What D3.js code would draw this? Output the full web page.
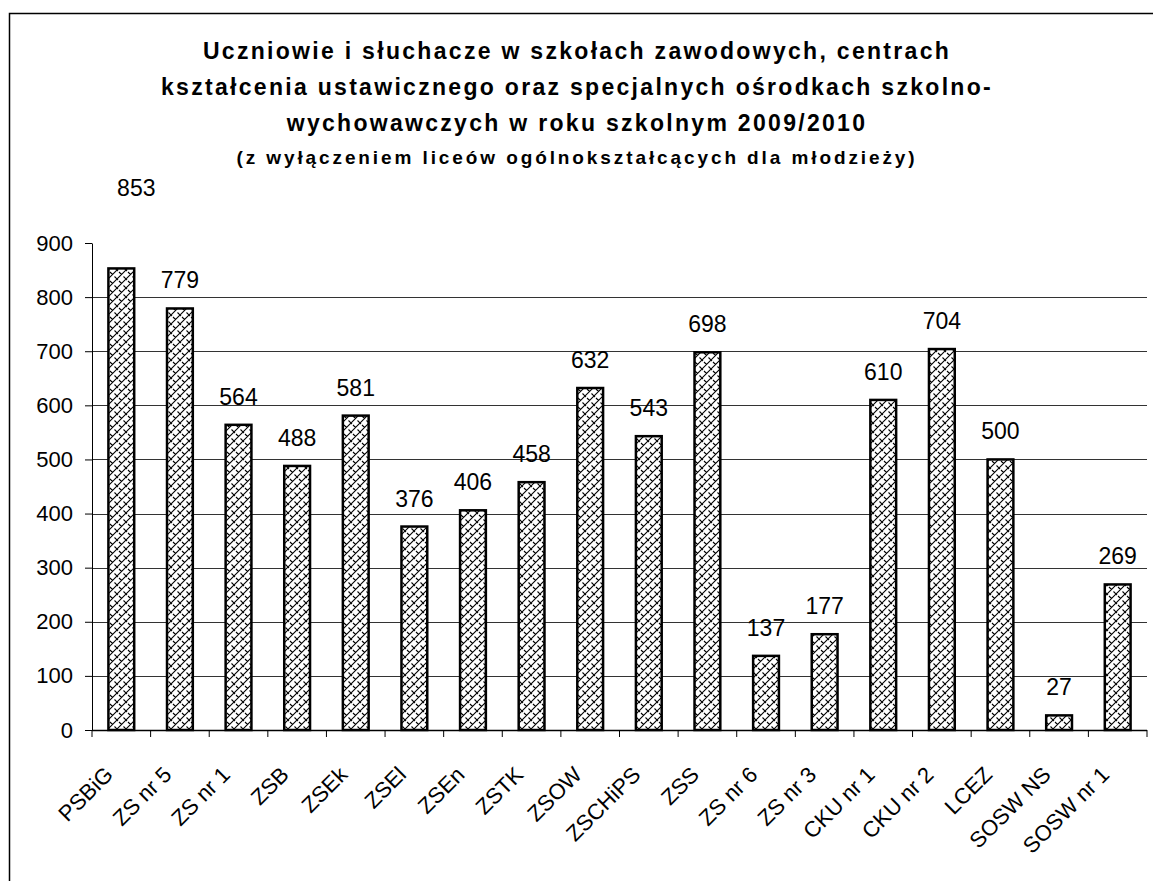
<!DOCTYPE html>
<html>
<head>
<meta charset="utf-8">
<script src="https://cdn.jsdelivr.net/npm/d3@7"></script>
<style>
  body { margin: 0; background: #fff; }
  text { font-family: Arial, "Liberation Sans", sans-serif; fill: #000; }
  .title { font-weight: bold; font-size: 23px; letter-spacing: 2.3px; }
  .subtitle { font-weight: bold; font-size: 19px; letter-spacing: 2.9px; }
  .axis text { font-size: 22px; }
  .xl { font-size: 21px; }
  .axis path, .axis line { stroke: #000; }
  .grid line { stroke: #333; stroke-width: 1; }
  .val { font-size: 23px; text-anchor: middle; }
</style>
</head>
<body>
<svg width="1153" height="881"></svg>
<script>
var svg = d3.select('svg');

// data
var schools = ['PSBiG', 'ZS nr 5', 'ZS nr 1', 'ZSB', 'ZSEk', 'ZSEl', 'ZSEn', 'ZSTK', 'ZSOW',
  'ZSCHiPS', 'ZSS', 'ZS nr 6', 'ZS nr 3', 'CKU nr 1', 'CKU nr 2', 'LCEZ', 'SOSW NS', 'SOSW nr 1'];
var students = [853, 779, 564, 488, 581, 376, 406, 458, 632, 543, 698, 137, 177, 610, 704, 500, 27, 269];
var yTicks = [0, 100, 200, 300, 400, 500, 600, 700, 800, 900];
var titleLines = [
  'Uczniowie i słuchacze w szkołach zawodowych, centrach',
  'kształcenia ustawicznego oraz specjalnych ośrodkach szkolno-',
  'wychowawczych w roku szkolnym 2009/2010'
];
var subtitle = '(z wyłączeniem liceów ogólnokształcących dla młodzieży)';

var data = schools.map(function(s, i) { return {name: s, value: students[i]}; });

var plot = {l: 92, r: 1147, t: 243, b: 730};

// outer frame
svg.append('rect')
  .attr('x', 9.5).attr('y', 13.5)
  .attr('width', 1200).attr('height', 900)
  .attr('fill', 'none').attr('stroke', '#000').attr('stroke-width', 1.5);

// hatch pattern
var defs = svg.append('defs');
var pat = defs.append('pattern')
  .attr('id', 'hatch')
  .attr('patternUnits', 'userSpaceOnUse')
  .attr('width', 9).attr('height', 9);
pat.append('rect').attr('width', 9).attr('height', 9).attr('fill', '#fff');
pat.append('path')
  .attr('d', 'M0,9 L9,0 M2,2 L4.5,4.5 M6.5,6.5 L9,9 M0,0 L1,1')
  .attr('stroke', '#000').attr('stroke-width', 1.1).attr('fill', 'none');

var x = d3.scaleBand()
  .domain(schools)
  .range([plot.l, plot.r])
  .paddingInner(0.56)
  .paddingOuter(0.28);

var y = d3.scaleLinear().domain([0, 900]).range([plot.b, plot.t]);

// titles
svg.selectAll('.title')
  .data(titleLines)
  .enter().append('text')
  .attr('class', 'title')
  .attr('x', 577)
  .attr('y', function(d, i) { return 59 + i * 36; })
  .attr('text-anchor', 'middle')
  .text(function(d) { return d; });

svg.append('text')
  .attr('class', 'subtitle')
  .attr('x', 577).attr('y', 164)
  .attr('text-anchor', 'middle')
  .text(subtitle);

// gridlines
svg.append('g')
  .attr('class', 'grid')
  .selectAll('line')
  .data(yTicks.filter(function(t) { return t > 0 && t < 900; }))
  .enter().append('line')
  .attr('x1', plot.l).attr('x2', plot.r)
  .attr('y1', function(d) { return Math.round(y(d)) + 0.5; })
  .attr('y2', function(d) { return Math.round(y(d)) + 0.5; });

// bars
svg.selectAll('.bar')
  .data(data)
  .enter().append('rect')
  .attr('class', 'bar')
  .attr('x', function(d) { return x(d.name); })
  .attr('y', function(d) { return y(d.value); })
  .attr('width', x.bandwidth())
  .attr('height', function(d) { return plot.b - y(d.value); })
  .attr('fill', 'url(#hatch)')
  .attr('stroke', '#000')
  .attr('stroke-width', 2.5);

// value labels
svg.selectAll('.val')
  .data(data)
  .enter().append('text')
  .attr('class', 'val')
  .attr('x', function(d) { return x(d.name) + x.bandwidth() / 2 + (d.value > 850 ? 15 : 0); })
  .attr('y', function(d) { return d.value > 850 ? 196 : y(d.value) - 20; })
  .text(function(d) { return d.value; });

// y axis
svg.append('g')
  .attr('class', 'axis')
  .attr('transform', 'translate(' + plot.l + ',0)')
  .call(d3.axisLeft(y).tickValues(yTicks).tickSize(7).tickPadding(12).tickSizeOuter(0));

// x axis with ticks between categories
var bounds = d3.range(schools.length + 1).map(function(i) { return plot.l + i * x.step(); });
var xg = svg.append('g').attr('class', 'axis');
xg.append('line')
  .attr('x1', plot.l).attr('x2', plot.r)
  .attr('y1', plot.b + 0.5).attr('y2', plot.b + 0.5)
  .attr('stroke', '#000').attr('stroke-width', 1.5);
xg.selectAll('.xt')
  .data(bounds)
  .enter().append('line')
  .attr('x1', function(d) { return d; }).attr('x2', function(d) { return d; })
  .attr('y1', plot.b).attr('y2', plot.b + 7)
  .attr('stroke', '#000');

xg.selectAll('.xl')
  .data(schools)
  .enter().append('text')
  .attr('class', 'xl')
  .attr('text-anchor', 'end')
  .attr('transform', function(d) {
    var cx = x(d) + x.bandwidth() / 2 - 7;
    return 'translate(' + [cx, 776] + ')rotate(-45)';
  })
  .text(function(d) { return d; });
</script>
</body>
</html>
